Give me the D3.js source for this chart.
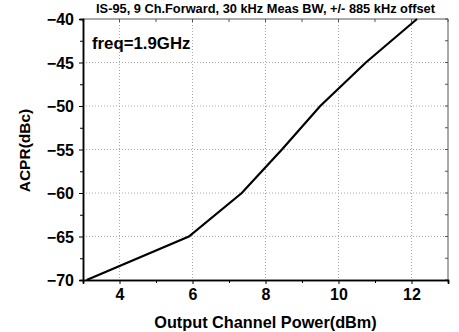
<!DOCTYPE html>
<html>
<head>
<meta charset="utf-8">
<script src="https://cdn.jsdelivr.net/npm/d3@7"></script>
<style>
  body { margin: 0; background: #fff; }
  svg text { font-family: Arial, "Liberation Sans", sans-serif !important; font-weight: 700 !important; fill: #000; }
</style>
</head>
<body>
<div id="chart"></div>
<script>
// data
var power = [3.1, 5.9, 7.35, 8.45, 9.5, 10.75, 12.15];
var acpr = [-70, -65, -60, -55, -50, -45, -40];
var xTicks = [4, 6, 8, 10, 12];
var yTicks = [-70, -65, -60, -55, -50, -45, -40];
var title = "IS-95, 9 Ch.Forward, 30 kHz Meas BW, +/- 885 kHz offset";
var note = "freq=1.9GHz";

var width = 459, height = 332;
var m = { left: 83, right: 11, top: 19, bottom: 52 };
var pw = width - m.left - m.right, ph = height - m.top - m.bottom;

var svg = d3.select('#chart').append('svg')
  .attr('width', width).attr('height', height);

var x = d3.scaleLinear().domain([3, 13]).range([m.left, m.left + pw]);
var y = d3.scaleLinear().domain([-70, -40]).range([m.top + ph, m.top]);

// grid
var grid = svg.append('g').attr('stroke', '#aaa').attr('stroke-dasharray', '1,2').attr('stroke-width', 1);
xTicks.forEach(function (t) {
  grid.append('line').attr('x1', x(t)).attr('x2', x(t)).attr('y1', m.top).attr('y2', m.top + ph);
});
yTicks.slice(1, -1).forEach(function (t) {
  grid.append('line').attr('x1', m.left).attr('x2', m.left + pw).attr('y1', y(t)).attr('y2', y(t));
});

// top / right frame
svg.append('line').attr('x1', m.left).attr('x2', m.left + pw).attr('y1', m.top).attr('y2', m.top)
  .attr('stroke', '#555').attr('stroke-width', 1);
svg.append('line').attr('x1', m.left + pw).attr('x2', m.left + pw).attr('y1', m.top).attr('y2', m.top + ph)
  .attr('stroke', '#555').attr('stroke-width', 1);

// minor ticks on top and right
var minorX = d3.range(3, 13.01, 1);
var minorY = d3.range(-70, -39.9, 2.5);
svg.append('g').selectAll('line').data(minorX).enter().append('line')
  .attr('x1', function (d) { return x(d); }).attr('x2', function (d) { return x(d); })
  .attr('y1', m.top).attr('y2', m.top + 3).attr('stroke', '#555');
svg.append('g').selectAll('line').data(minorY).enter().append('line')
  .attr('y1', function (d) { return y(d); }).attr('y2', function (d) { return y(d); })
  .attr('x1', m.left + pw).attr('x2', m.left + pw - 3).attr('stroke', '#555');

// axes
var xAxis = svg.append('g').attr('transform', 'translate(0,' + (m.top + ph) + ')')
  .call(d3.axisBottom(x).tickValues(xTicks).tickSize(4).tickPadding(5).tickFormat(d3.format('d')));
var xMinor = svg.append('g').attr('transform', 'translate(0,' + (m.top + ph) + ')')
  .call(d3.axisBottom(x).tickValues([5, 7, 9, 11, 13]).tickSize(3).tickFormat(''));
var yAxis = svg.append('g').attr('transform', 'translate(' + m.left + ',0)')
  .call(d3.axisLeft(y).tickValues(yTicks).tickSize(4).tickPadding(5).tickFormat(d3.format('d')));
var yMinor = svg.append('g').attr('transform', 'translate(' + m.left + ',0)')
  .call(d3.axisLeft(y).tickValues([-67.5, -62.5, -57.5, -52.5, -47.5, -42.5]).tickSize(3).tickFormat(''));

[xAxis, xMinor, yAxis, yMinor].forEach(function (a) {
  a.attr('font-size', 16).attr('font-family', 'Arial, "Liberation Sans", sans-serif').attr('font-weight', 700);
  a.select('.domain').attr('stroke', '#000').attr('stroke-width', 1.5);
  a.selectAll('.tick line').attr('stroke', '#000').attr('stroke-width', 1);
});
yAxis.selectAll('text').attr('dy', '0.36em');

// series
var line = d3.line().x(function (d, i) { return x(power[i]); }).y(function (d) { return y(d); });
svg.append('path').datum(acpr).attr('d', line)
  .attr('fill', 'none').attr('stroke', '#000').attr('stroke-width', 2.2);

// texts
svg.append('text').attr('x', x(8)).attr('y', 13).attr('text-anchor', 'middle')
  .attr('font-size', 12.8).text(title);
svg.append('text').attr('x', 92).attr('y', 49).attr('font-size', 16.8).text(note);
svg.append('text').attr('x', x(8)).attr('y', 328).attr('text-anchor', 'middle')
  .attr('font-size', 16.3).text('Output Channel Power(dBm)');
svg.append('text').attr('transform', 'translate(30,' + (m.top + ph / 2 + 1) + ') rotate(-90)')
  .attr('text-anchor', 'middle').attr('font-size', 15.5).text('ACPR(dBc)');
</script>
</body>
</html>
